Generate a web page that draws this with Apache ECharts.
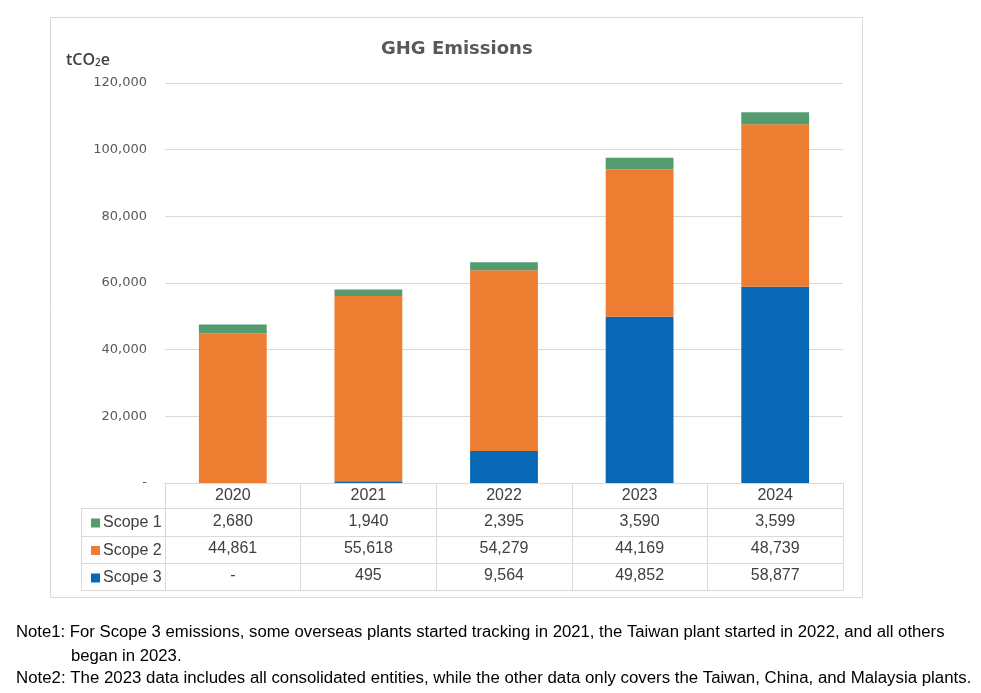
<!DOCTYPE html>
<html>
<head>
<meta charset="utf-8">
<script src="https://cdn.jsdelivr.net/npm/echarts@6/dist/echarts.min.js"></script>
<style>
html,body{margin:0;padding:0;background:#fff;}
#chart{width:981px;height:693px;}
</style>
</head>
<body>
<div id="chart"></div>
<script>
const years = ['2020', '2021', '2022', '2023', '2024'];
const scope1 = [2680, 1940, 2395, 3590, 3599];
const scope2 = [44861, 55618, 54279, 44169, 48739];
const scope3 = [null, 495, 9564, 49852, 58877];
const seriesNames = ['Scope 1', 'Scope 2', 'Scope 3'];
const colors = {'Scope 1': '#559b70', 'Scope 2': '#ed7d31', 'Scope 3': '#0868b6'};
const yTicks = {min: 0, max: 120000, interval: 20000};
const titleText = 'GHG Emissions';
const notes = [
  'Note1: For Scope 3 emissions, some overseas plants started tracking in 2021, the Taiwan plant started in 2022, and all others',
  'began in 2023.',
  'Note2: The 2023 data includes all consolidated entities, while the other data only covers the Taiwan, China, and Malaysia plants.'
];

const fmt = v => (v === null || v === undefined) ? '-' : v.toLocaleString('en-US');
const gridCol = '#d9d9d9';
const tableFont = 'Liberation Sans';
const txtCol = '#404040';

function rowAxis(arr, margin) {
  return {
    type: 'category', data: years, gridIndex: 0, position: 'bottom',
    axisLine: {show: false}, axisTick: {show: false}, splitLine: {show: false},
    axisLabel: {margin: margin, fontFamily: tableFont, fontSize: 16, color: txtCol,
      formatter: (v, i) => fmt(arr[i])}
  };
}

const chart = echarts.init(document.getElementById('chart'));
const hLines = [508.5, 536.5, 563.5, 590.5].map(y => ({
  type: 'line', shape: {x1: 81, y1: y, x2: 843, y2: y}, style: {stroke: gridCol, lineWidth: 1}
}));
const noteStyle = {fontFamily: 'Liberation Sans', fontSize: 16, fill: '#000'};

chart.setOption({
  animation: false,
  title: {text: titleText, left: 376, top: 35,
    textStyle: {fontFamily: 'DejaVu Sans', fontWeight: 'bold', fontSize: 18, color: '#595959'}},
  legend: {
    data: seriesNames, orient: 'vertical', left: 86, top: 509,
    icon: 'rect', itemWidth: 9, itemHeight: 9, itemGap: 9.5,
    textStyle: {fontFamily: tableFont, fontSize: 16, color: txtCol, lineHeight: 18, padding: [0, 0, 0, -2]},
    selectedMode: false
  },
  grid: {left: 165, right: 138, top: 83, bottom: 210, containLabel: false},
  xAxis: [
    {
      type: 'category', data: years, position: 'bottom',
      axisLine: {show: true, lineStyle: {color: gridCol}},
      axisTick: {show: true, length: 107, lineStyle: {color: gridCol}},
      axisLabel: {margin: 5, fontFamily: tableFont, fontSize: 16, color: txtCol}
    },
    rowAxis(scope1, 31),
    rowAxis(scope2, 58),
    rowAxis(scope3, 85)
  ],
  yAxis: {
    type: 'value', min: yTicks.min, max: yTicks.max, interval: yTicks.interval,
    axisLine: {show: false}, axisTick: {show: false},
    splitLine: {lineStyle: {color: gridCol}},
    axisLabel: {margin: 18, fontFamily: 'DejaVu Sans', fontSize: 13, color: '#595959',
      formatter: v => v === 0 ? '-' : v.toLocaleString('en-US')}
  },
  series: [
    {name: 'Scope 3', type: 'bar', stack: 'ghg', data: scope3, barWidth: '50%', itemStyle: {color: colors['Scope 3']}},
    {name: 'Scope 2', type: 'bar', stack: 'ghg', data: scope2, barWidth: '50%', itemStyle: {color: colors['Scope 2']}},
    {name: 'Scope 1', type: 'bar', stack: 'ghg', data: scope1, barWidth: '50%', itemStyle: {color: colors['Scope 1']}}
  ],
  graphic: [
    {type: 'rect', shape: {x: 50.5, y: 17.5, width: 812, height: 580}, style: {fill: 'none', stroke: gridCol, lineWidth: 1}, silent: true},
    ...hLines,
    {type: 'line', shape: {x1: 81.5, y1: 508, x2: 81.5, y2: 591}, style: {stroke: gridCol, lineWidth: 1}},
    {type: 'text', left: 66, top: 52, style: {
      text: '{a|tCO}{s|2}{a|e}',
      rich: {
        a: {fontFamily: 'Open Sans', fontSize: 16, fontWeight: 600, fill: '#404040', verticalAlign: 'bottom', lineHeight: 20},
        s: {fontFamily: 'Open Sans', fontSize: 10, fontWeight: 600, fill: '#404040', verticalAlign: 'bottom', lineHeight: 15}
      }
    }},
    {type: 'text', x: 16, y: 625, scaleX: 1.044, style: Object.assign({text: notes[0]}, noteStyle)},
    {type: 'text', x: 71, y: 649, scaleX: 1.044, style: Object.assign({text: notes[1]}, noteStyle)},
    {type: 'text', x: 16, y: 671, scaleX: 1.052, style: Object.assign({text: notes[2]}, noteStyle)}
  ]
});
</script>
</body>
</html>
